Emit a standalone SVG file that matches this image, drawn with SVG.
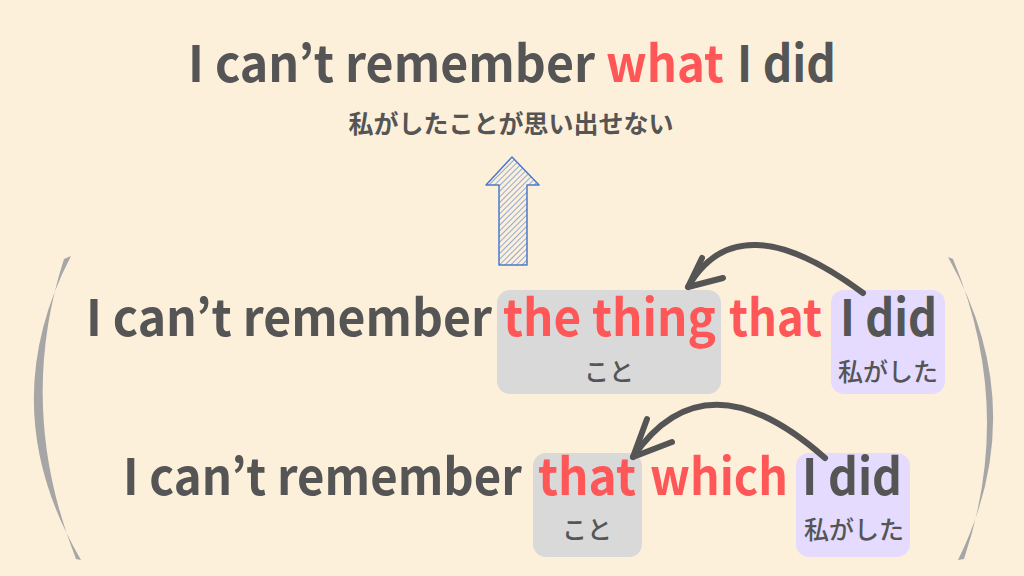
<svg xmlns="http://www.w3.org/2000/svg" width="1024" height="576" viewBox="0 0 1024 576">
<defs>
<style>
.en{font-family:"Noto Sans CJK JP","Noto Sans",sans-serif;font-weight:bold;font-size:50px;fill:#555555}
.red{fill:#ff5757}
.jp{font-family:"Noto Sans CJK JP",sans-serif;font-weight:500;font-size:25px;fill:#555555;text-anchor:middle}
.conn{fill:none;stroke:#555555;stroke-width:6;stroke-linecap:round;stroke-linejoin:round}
.br{fill:#a6a6a6}
</style>
<pattern id="hatch" patternUnits="userSpaceOnUse" width="4" height="4" patternTransform="rotate(45)">
<line x1="0" y1="0" x2="0" y2="4" stroke="#4a7acc" stroke-width="1.2"/>
</pattern>
</defs>
<rect width="1024" height="576" fill="#fdf0db"/>

<g id="title">
<text class="en" x="188" y="82" textLength="407" lengthAdjust="spacingAndGlyphs">I can’t remember</text>
<text class="en red" x="606" y="82" textLength="118" lengthAdjust="spacingAndGlyphs">what</text>
<text class="en" x="737" y="82" textLength="99" lengthAdjust="spacingAndGlyphs">I did</text>
<text class="jp" x="511" y="133" style="font-size:25px;font-weight:bold">私がしたことが思い出せない</text>
</g>

<g id="up-arrow">
<path d="M512,157 L539,185 L527,185 L527,265 L499,265 L499,185 L486,185 Z" fill="url(#hatch)" stroke="#4a7acc" stroke-width="1.5" stroke-linejoin="round"/>
</g>

<g id="bracket-left">
<path class="br" d="M71,256 Q -8,408 81,560 L76,559 Q 16,408 64,259 Z"/>
</g>
<g id="bracket-right">
<path class="br" d="M948,257 Q 1033,408 958,560 L964,559 Q 1015,408 953,259 Z"/>
</g>

<g id="row1">
<rect id="box-thing" x="497" y="290" width="224" height="104" rx="13" fill="#d9d9d9"/>
<rect id="box-did1" x="831" y="290" width="114" height="104" rx="13" fill="#e4dbff"/>
<text class="en" x="86" y="336" textLength="406" lengthAdjust="spacingAndGlyphs">I can’t remember</text>
<text class="en red" x="503" y="336" textLength="213" lengthAdjust="spacingAndGlyphs">the thing</text>
<text class="en red" x="729" y="336" textLength="93" lengthAdjust="spacingAndGlyphs">that</text>
<text class="en" x="840" y="336" textLength="97" lengthAdjust="spacingAndGlyphs">I did</text>
<text class="jp" x="609" y="381">こと</text>
<text class="jp" x="888" y="381">私がした</text>
</g>

<g id="row2">
<rect id="box-that" x="533" y="453" width="109" height="104" rx="13" fill="#d9d9d9"/>
<rect id="box-did2" x="796" y="453" width="114" height="104" rx="13" fill="#e4dbff"/>
<text class="en" x="123" y="495" textLength="399" lengthAdjust="spacingAndGlyphs">I can’t remember</text>
<text class="en red" x="538" y="495" textLength="98" lengthAdjust="spacingAndGlyphs">that</text>
<text class="en red" x="650" y="495" textLength="138" lengthAdjust="spacingAndGlyphs">which</text>
<text class="en" x="802" y="495" textLength="100" lengthAdjust="spacingAndGlyphs">I did</text>
<text class="jp" x="587" y="539">こと</text>
<text class="jp" x="854" y="539">私がした</text>
</g>

<g id="connectors">
<path class="conn" d="M863,293 Q 738,200 688,287"/>
<path class="conn" d="M702,258 L688,287 L723,278"/>
<path class="conn" d="M825,458 Q 705,352 633,457"/>
<path class="conn" d="M647,419 L633,457 L672,442"/>
</g>
</svg>
